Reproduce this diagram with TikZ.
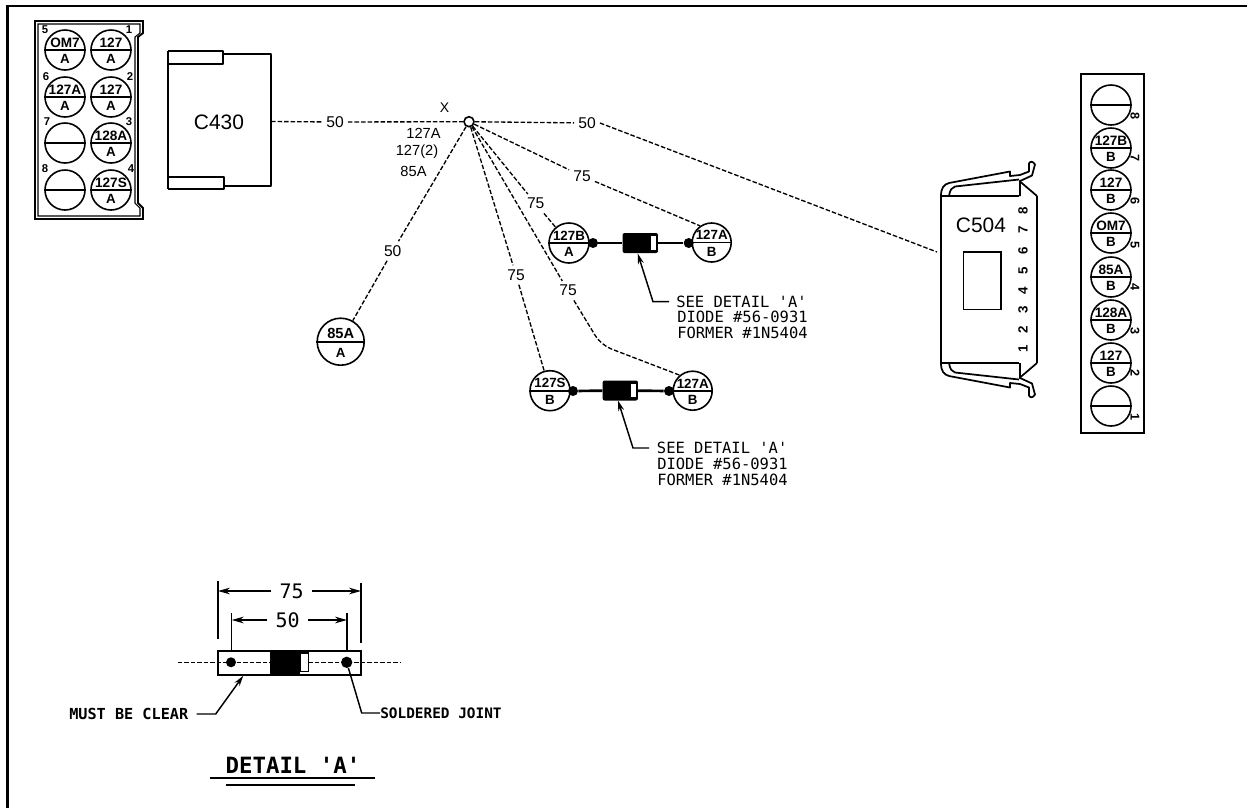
\documentclass[tikz,border=0pt]{standalone}
\usepackage{fontspec}
\setmainfont{Liberation Sans}
\newfontfamily\plotfont{DejaVu Sans Mono}
\usetikzlibrary{arrows.meta}
\newcommand{\pinmark}[7]{% name x y radius size top bottom
  \node[pinring,minimum size=#4*1.5pt] (#1) at (#2,#3) {};
  \draw[pinbar] (#1.west) -- (#1.east);
  \node[pintext,font=\bfseries\fontsize{#5}{#5}\selectfont,anchor=center] (#1t) at (#2,#3-#4*0.37) {#6};
  \node[pintext,font=\bfseries\fontsize{10}{10}\selectfont,anchor=center] (#1b) at (#2,#3+#4*0.47) {#7};
}
\newcommand{\clipshape}{%
  \draw[body] (-0,-83.5) .. controls (0,-92) and (3,-95) .. (8,-96.5) -- (69,-108) -- (69,-103.5) -- (79,-104.5)
     -- (88,-108) -- (88,-116) .. controls (89,-118.5) and (92,-118.5) .. (94,-115) -- (91,-104) -- (78,-98);
  \draw[body] (8,-83.5) .. controls (9,-90) and (11,-92) .. (14,-93) -- (78,-100);
  \draw[body] (79,-83.5) -- (79,-98) -- (96,-83.5);
}
\tikzset{
  pinring/.style={circle,draw,line width=1.2pt,fill=white,inner sep=0pt},
  pinbar/.style={line width=1.3pt},
  pintext/.style={inner sep=0pt},
  wire/.style={line width=1pt,dash pattern=on 3.4pt off 1.5pt},
  wirelabel/.style={font=\fontsize{11.7}{12}\selectfont,inner sep=3pt},
  note/.style={font=\plotfont\fontsize{11.6}{11.6}\selectfont,inner sep=0pt,anchor=west},
  boldnote/.style={font=\plotfont\bfseries\fontsize{11.4}{11.4}\selectfont,inner sep=0pt,anchor=west},
  dimlabel/.style={font=\plotfont\fontsize{15}{15}\selectfont,inner sep=2pt},
  body/.style={line width=1.3pt,line join=round},
  numrot/.style={font=\bfseries\fontsize{10}{10}\selectfont,rotate=90,inner sep=0pt},
  numrotr/.style={font=\bfseries\fontsize{9.5}{9.5}\selectfont,rotate=-90,inner sep=0pt},
  num/.style={font=\bfseries\fontsize{8.5}{8.5}\selectfont,inner sep=0pt},
  lead/.style={line width=1.1pt},
  leadarrow/.style={line width=1.1pt,{Stealth[length=8pt,width=4.5pt]}-},
  dim/.style={line width=1.1pt,-{Stealth[length=9pt,width=5pt]}},
  dot/.style={circle,fill=black,inner sep=0pt,minimum size=7.5pt},
  joint/.style={circle,draw,fill=white,line width=1.2pt,inner sep=0pt,minimum size=7.5pt}
}
\begin{document}
\begin{tikzpicture}[x=0.75pt,y=-0.75pt]
\useasboundingbox (0,0) rectangle (1247,808);
% frame
\draw[line width=1.6pt] (7.5,808) -- (7.5,6) -- (1247,6);

% left block
\draw[line width=1.4pt] (35,21) -- (143,21) -- (143,33) -- (138,37) -- (138,203) -- (143,208) -- (143,219) -- (35,219) -- cycle;
\draw[line width=0.8pt] (38,24) -- (140,24) -- (140,33) -- (135,37) -- (135,203) -- (140,208) -- (140,216) -- (38,216) -- cycle;
\pinmark{la}{65}{50}{20}{10.2}{OM7}{A}
\pinmark{lb}{111}{50}{20}{10.2}{127}{A}
\pinmark{lc}{65}{97}{20}{10.2}{127A}{A}
\pinmark{ld}{111}{97}{20}{10.2}{127}{A}
\pinmark{le}{65}{143}{20}{10.2}{}{}
\pinmark{lf}{111}{143}{20}{10.2}{128A}{A}
\pinmark{lg}{65}{190}{20}{10.2}{}{}
\pinmark{lh}{111}{190}{20}{10.2}{127S}{A}
\node[num] (n5) at (45,30) {5};
\node[num] (n1) at (129,30) {1};
\node[num] (n6) at (46,77) {6};
\node[num] (n2) at (130,77) {2};
\node[num] (n7) at (47,122) {7};
\node[num] (n3) at (129,122) {3};
\node[num] (n8) at (45,169) {8};
\node[num] (n4) at (131,169) {4};

% C430
\draw[body] (168,51) -- (168,189);
\draw[body] (168,51) -- (223,51) -- (223,64) -- (168,64);
\draw[body] (168,177) -- (224,177) -- (224,189) -- (168,189);
\draw[body] (223,54) -- (271,54) -- (271,186) -- (224,186);
\node[font=\fontsize{15.7}{16}\selectfont,inner sep=0pt] (c430) at (219,122) {C430};
\coordinate (c430e) at (271,121.5);

% C504
\draw[body] (941,196) -- (941,363);
\draw[body] (941,196) -- (1019,196);
\draw[body] (941,363) -- (1019,363);
\draw[body] (1037,196) -- (1037,363);
\begin{scope}[shift={(941,279.5)}]\clipshape\end{scope}
\begin{scope}[shift={(941,279.5)},yscale=-1]\clipshape\end{scope}
\node[font=\fontsize{15.7}{16}\selectfont,inner sep=0pt] (c504) at (981,225) {C504};
\draw[line width=1.2pt] (963.3,251.7) rectangle (1000.7,309.3);
\coordinate (c504w) at (937,252);
\node[numrot] (c8) at (1023,211) {8};
\node[numrot] (c7) at (1023,230) {7};
\node[numrot] (c6) at (1023,251) {6};
\node[numrot] (c5) at (1023,271) {5};
\node[numrot] (c4) at (1023,291) {4};
\node[numrot] (c3) at (1023,310) {3};
\node[numrot] (c2) at (1023,330) {2};
\node[numrot] (c1) at (1023,349) {1};

% right block
\draw[line width=1.4pt] (1081,74) rectangle (1144,432.7);
\pinmark{ra}{1111}{105}{20}{10.2}{}{}
\pinmark{rb}{1111}{148}{20}{10.2}{127B}{B}
\pinmark{rc}{1111}{190}{20}{10.2}{127}{B}
\pinmark{rd}{1111}{233}{20}{10.2}{OM7}{B}
\pinmark{re}{1111}{277}{20}{10.2}{85A}{B}
\pinmark{rf}{1111}{320}{20}{10.2}{128A}{B}
\pinmark{rg}{1111}{363}{20}{10.2}{127}{B}
\pinmark{rh}{1111}{406}{20}{10.2}{}{}
\node[numrotr] (r8) at (1135,116) {8};
\node[numrotr] (r7) at (1135,158) {7};
\node[numrotr] (r6) at (1135,201) {6};
\node[numrotr] (r5) at (1135,245) {5};
\node[numrotr] (r4) at (1135,287) {4};
\node[numrotr] (r3) at (1135,331) {3};
\node[numrotr] (r2) at (1135,373) {2};
\node[numrotr] (r1) at (1135,417) {1};

% junction and splice text
\node[joint] (x) at (469,121.7) {};
\node[font=\fontsize{10.5}{11}\selectfont,inner sep=0pt] (xl) at (444.5,108) {X};
\node[font=\fontsize{11}{11}\selectfont,inner sep=0pt] (s1) at (423.5,133.5) {127A};
\node[font=\fontsize{11}{11}\selectfont,inner sep=0pt] (s2) at (417,152) {127(2)};
\node[font=\fontsize{11}{11}\selectfont,inner sep=0pt] (s3) at (413.5,171) {85A};

% pins on the wires
\pinmark{pa}{340.7}{341.7}{23.5}{11}{85A}{A}
\pinmark{pb}{569}{243}{20}{10}{127B}{A}
\pinmark{pc}{711.7}{242.5}{19.5}{10}{127A}{B}
\pinmark{pd}{550}{390.7}{20}{10}{127S}{B}
\pinmark{pe}{692.7}{390.7}{19.5}{10}{127A}{B}

% wire labels
\node[wirelabel] (w1) at (335,122) {50};
\node[wirelabel] (w2) at (587,123) {50};
\node[wirelabel] (w3) at (392.7,251) {50};
\node[wirelabel] (w4) at (582,176) {75};
\node[wirelabel] (w5) at (535.7,203.7) {75};
\node[wirelabel] (w6) at (516,275) {75};
\node[wirelabel] (w7) at (568,290.7) {75};

% wires
\draw[wire] (c430e) -- (w1);
\draw[wire] (w1) -- (x);
\draw[wire] (x) -- (w2);
\draw[wire] (w2.east) -- (c504w);
\draw[wire] (x) -- (w3);
\draw[wire] (w3) -- (pa);
\draw[wire] (x) -- (w4);
\draw[wire] (w4) -- (pc.125);
\draw[wire] (x) -- (w5);
\draw[wire] (w5) -- (pb);
\draw[wire] (x) -- (w6);
\draw[wire] (w6) -- (pd);
\draw[wire] (x) -- (w7);
\draw[wire,rounded corners=8pt] (w7) -- (601,345) -- (pe.130);

% upper diode
\node[dot] (da) at (593,243) {};
\node[dot] (db) at (688.7,243) {};
\node[rectangle,rounded corners=1.5pt,fill=black,minimum width=26.5pt,minimum height=15pt,inner sep=0pt] (d1) at (640.3,243) {};
\node[rectangle,fill=white,minimum width=4pt,minimum height=10pt,inner sep=0pt] (d1b) at (653.5,243) {};
\draw[line width=2pt] (da) -- (d1) (d1) -- (db);
\coordinate (d1tip) at (637.7,253.5);
\coordinate (d1k) at (653,301.7);
\coordinate (d1e) at (669,301.7);
\draw[leadarrow] (d1tip) -- (d1k) -- (d1e);
\node[note] (t1) at (676,301.7) {SEE DETAIL 'A'};
\node[note] (t2) at (677,317) {DIODE \#56-0931};
\node[note] (t3) at (677,333) {FORMER \#1N5404};

% lower diode
\node[dot] (dc) at (573,391) {};
\node[dot] (dd) at (669,391) {};
\node[rectangle,rounded corners=1.5pt,fill=black,minimum width=26.5pt,minimum height=15pt,inner sep=0pt] (d2) at (620.3,390.5) {};
\node[rectangle,fill=white,minimum width=4pt,minimum height=10pt,inner sep=0pt] (d2b) at (633.5,390.5) {};
\draw[line width=2pt] (dc) -- (d2) (d2) -- (dd);
\coordinate (d2tip) at (618,400.5);
\coordinate (d2k) at (633,448);
\coordinate (d2e) at (649,448);
\draw[leadarrow] (d2tip) -- (d2k) -- (d2e);
\node[note] (t4) at (656.7,448) {SEE DETAIL 'A'};
\node[note] (t5) at (657,464) {DIODE \#56-0931};
\node[note] (t6) at (657,480) {FORMER \#1N5404};

% detail A
\coordinate (wl) at (177.7,662.3);
\coordinate (wr) at (400.7,662.3);
\draw[line width=1.3pt] (217.7,650.7) rectangle (361,675);
\draw[wire] (wl) -- (wr);
\node[rectangle,fill=black,minimum width=22.5pt,minimum height=18.2pt,inner sep=0pt] (sl) at (285,662.8) {};
\node[rectangle,draw,fill=white,line width=0.9pt,minimum width=5.5pt,minimum height=14pt,inner sep=0pt] (sb) at (304.5,662.3) {};
\node[dot] (dl) at (231,662.3) {};
\node[dot,minimum size=8.5pt] (dr) at (346.7,662.3) {};
\coordinate (e1a) at (218,580.7); \coordinate (e1b) at (218,639);
\coordinate (e2a) at (361,583); \coordinate (e2b) at (361,642.7);
\coordinate (e3a) at (231.7,613); \coordinate (e3b) at (231.7,650.7);
\coordinate (e4a) at (347,613); \coordinate (e4b) at (347,650.7);
\draw[lead] (e1a) -- (e1b);
\draw[lead] (e2a) -- (e2b);
\draw[lead] (e3a) -- (e3b);
\draw[lead] (e4a) -- (e4b);
\node[dimlabel,inner xsep=6pt] (d75) at (291.7,591) {75};
\node[dimlabel,inner xsep=6pt] (d50) at (287.7,620) {50};
\coordinate (a1) at (218,591); \coordinate (a2) at (361,591);
\coordinate (a3) at (231.7,620); \coordinate (a4) at (347,620);
\draw[dim] (d75) -- (a1);
\draw[dim] (d75) -- (a2);
\draw[dim] (d50) -- (a3);
\draw[dim] (d50) -- (a4);

\node[boldnote] (mc) at (69,714) {MUST BE CLEAR};
\node[boldnote,font=\plotfont\bfseries\fontsize{10.8}{10.8}\selectfont] (sj) at (380,713) {SOLDERED JOINT};
\coordinate (mctip) at (243.3,675.7);
\coordinate (mck) at (215.7,714);
\coordinate (mce) at (196.7,714);
\draw[leadarrow] (mctip) -- (mck) -- (mce);
\coordinate (sjk) at (361.7,713);
\draw[lead] (dr) -- (sjk) -- (sj);

\node[font=\plotfont\bfseries\fontsize{16.8}{17}\selectfont,inner sep=0pt] (dt) at (293,765) {DETAIL 'A'};
\coordinate (u1) at (210,778); \coordinate (u2) at (375,778);
\coordinate (u3) at (226,785); \coordinate (u4) at (355,785);
\draw[line width=1.2pt] (u1) -- (u2);
\draw[line width=1.2pt] (u3) -- (u4);
\end{tikzpicture}
\end{document}
